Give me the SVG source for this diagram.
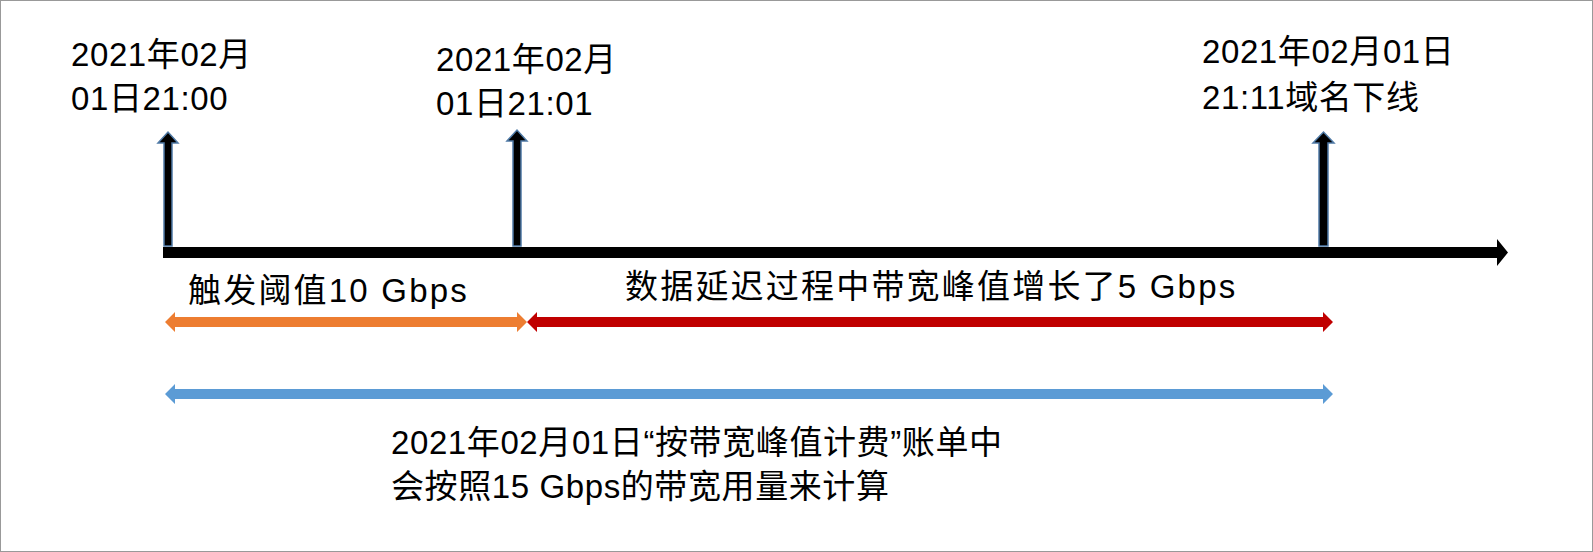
<svg xmlns="http://www.w3.org/2000/svg" width="1593" height="552" viewBox="0 0 1593 552">
<style>
text{font-family:"Liberation Sans","Noto Sans CJK SC",sans-serif;font-size:33px;fill:#000;letter-spacing:0.6px}
.wide{letter-spacing:2.2px}
.up{fill:#000;stroke:#4f7aa6;stroke-width:1.5}
</style>
<rect x="0.5" y="0.5" width="1592" height="551" fill="#fff" stroke="#999"/>
<g id="connectors">
<polygon points="163,247 1497,247 1497,239 1508,252.5 1497,266 1497,258 163,258" fill="#000"/>
<polygon class="up" points="164,246 164,143 158,143 168,132 178,143 172,143 172,246"/>
<polygon class="up" points="513,246 513,141 507,141 517,130 527,141 521,141 521,246"/>
<polygon class="up" points="1319,246 1319,143 1313,143 1323.5,132 1334,143 1328,143 1328,246"/>
<polygon fill="#ed7d31" points="165,322 175,312 175,317 517,317 517,312 527,322 517,332 517,327 175,327 175,332"/>
<polygon fill="#c00000" points="527,322 537,312 537,317 1323,317 1323,312 1333,322 1323,332 1323,327 537,327 537,332"/>
<polygon fill="#5b9bd5" points="165,394 175,384 175,389 1323,389 1323,384 1333,394 1323,404 1323,399 175,399 175,404"/>
</g>
<g id="t1"><text x="71" y="66">2021年02月</text><text x="71" y="110">01日21:00</text></g>
<g id="t2"><text x="436" y="71">2021年02月</text><text x="436" y="115">01日21:01</text></g>
<g id="t3"><text x="1202" y="63">2021年02月01日</text><text x="1202" y="109">21:11域名下线</text></g>
<g id="l1"><text class="wide" x="188" y="302">触发阈值10 Gbps</text></g>
<g id="l2"><text class="wide" x="625" y="298">数据延迟过程中带宽峰值增长了5 Gbps</text></g>
<g id="l3"><text x="391" y="454">2021年02月01日“按带宽峰值计费”账单中</text><text x="391" y="498">会按照15 Gbps的带宽用量来计算</text></g>
</svg>
